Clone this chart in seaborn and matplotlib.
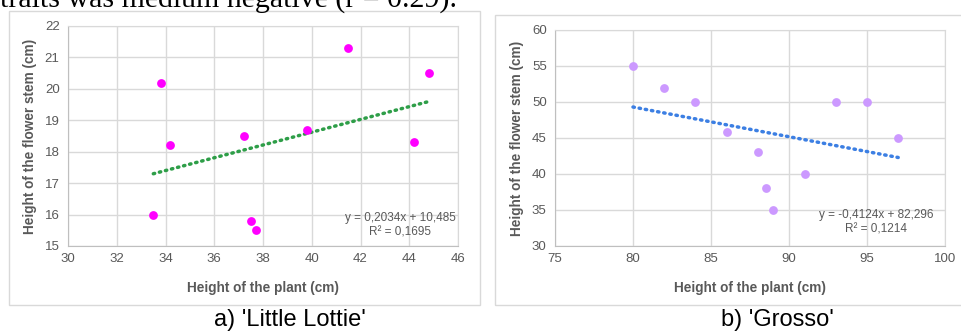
import numpy as np
import pandas as pd
import matplotlib.pyplot as plt
import seaborn as sns
from matplotlib.patches import Rectangle

sns.set_style("white")
plt.rcParams['font.family'] = ['Liberation Sans', 'DejaVu Sans']

# ------------------------------
# Data
# ------------------------------
lottie_plant = [33.5, 33.8, 34.2, 37.2, 37.5, 37.7, 39.8, 41.5, 44.2, 44.8]
lottie_stem = [16.0, 20.2, 18.2, 18.5, 15.8, 15.5, 18.7, 21.3, 18.3, 20.5]

grosso_plant = [80, 82, 84, 86, 88, 88.5, 89, 91, 93, 95, 97]
grosso_stem = [55, 52, 50, 45.8, 43, 38, 35, 40, 50, 50, 45]

# trend line coefficients as printed on the chart
lottie_fit = (0.2034, 10.485)
grosso_fit = (-0.4124, 82.296)
lottie_eq = "y = 0,2034x + 10,485\nR² = 0,1695"
grosso_eq = "y = -0,4124x + 82,296\nR² = 0,1214"

lottie_xticks = [30, 32, 34, 36, 38, 40, 42, 44, 46]
lottie_yticks = [15, 16, 17, 18, 19, 20, 21, 22]
grosso_xticks = [75, 80, 85, 90, 95, 100]
grosso_yticks = [30, 35, 40, 45, 50, 55, 60]

captions = ["a) 'Little Lottie'", "b) 'Grosso'"]
top_text = "traits was medium negative (r = 0.29)."

df_a = pd.DataFrame({"plant": lottie_plant, "stem": lottie_stem})
df_b = pd.DataFrame({"plant": grosso_plant, "stem": grosso_stem})

GREY_TXT = "#595959"
GRID = "#D9D9D9"

fig = plt.figure(figsize=(9.61, 3.31), dpi=100)
W, H = 961, 331


def px_axes(x0, y0, x1, y1):
    return fig.add_axes([x0 / W, 1 - y1 / H, (x1 - x0) / W, (y1 - y0) / H])


# outer chart boxes
for bx in [(9, 11, 480, 305), (495, 15, 975, 305)]:
    fig.patches.append(Rectangle((bx[0] / W, 1 - bx[3] / H), (bx[2] - bx[0]) / W,
                                 (bx[3] - bx[1]) / H, transform=fig.transFigure,
                                 facecolor="none", edgecolor=GRID, lw=1.0, zorder=-1))

ax_a = px_axes(68, 26, 458, 246)
ax_b = px_axes(555, 30, 945, 246)

panels = [
    (ax_a, df_a, "#FF00FF", "#2E9E48", lottie_fit, lottie_eq, lottie_xticks, lottie_yticks, (400, 225)),
    (ax_b, df_b, "#CC99FF", "#3C7FE3", grosso_fit, grosso_eq, grosso_xticks, grosso_yticks, (876, 222)),
]

for ax, df, dot_c, line_c, fit, eq, xt, yt, eq_pos in panels:
    ax.set_facecolor("none")
    sns.scatterplot(data=df, x="plant", y="stem", color=dot_c, s=40, linewidth=0,
                    ax=ax, zorder=3)
    xs = np.array([df["plant"].min(), df["plant"].max()])
    ax.plot(xs, fit[0] * xs + fit[1], color=line_c, lw=2.5,
            linestyle=(0, (0.4, 1.4)), dash_capstyle="round", zorder=2)
    ax.set_xlim(xt[0], xt[-1])
    ax.set_ylim(yt[0], yt[-1])
    ax.set_xticks(xt)
    ax.set_yticks(yt)
    ax.grid(True, color=GRID, lw=1.0, zorder=0)
    ax.set_axisbelow(True)
    for side in ["top", "right"]:
        ax.spines[side].set_color(GRID)
    for side in ["left", "bottom"]:
        ax.spines[side].set_color("#BFBFBF")
    ax.tick_params(length=0, labelsize=9.5, labelcolor=GREY_TXT)
    ax.tick_params(axis="y", pad=6)
    ax.tick_params(axis="x", pad=5)
    ax.set_xlabel("Height of the plant (cm)", fontsize=9.8, fontweight="bold", color=GREY_TXT)
    ax.set_ylabel("Height of the flower stem (cm)", fontsize=9.8, fontweight="bold", color=GREY_TXT)
    ax.xaxis.set_label_coords(0.5, -0.16)
    ax.yaxis.set_label_coords(-0.08, 0.5)
    fig.text(eq_pos[0] / W, 1 - eq_pos[1] / H, eq, ha="center", va="center",
             fontsize=8.5, color=GREY_TXT, linespacing=1.3)

fig.text(290 / W, 1 - 320 / H, captions[0], ha="center", va="center", fontsize=17, color="black")
fig.text(777 / W, 1 - 320 / H, captions[1], ha="center", va="center", fontsize=17, color="black")
fig.text(0, 1 - 7 / H, top_text, ha="left", va="baseline", fontsize=21.5,
         family=["Liberation Serif", "DejaVu Serif"], color="black")

fig.savefig("out.png", dpi=100)
